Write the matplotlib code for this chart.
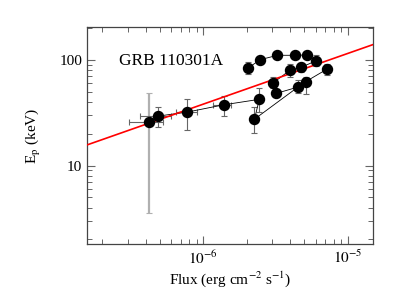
import matplotlib
matplotlib.use("Agg")
import matplotlib.pyplot as plt
import numpy as np
from matplotlib.ticker import LogLocator, FixedLocator, FixedFormatter, NullFormatter

plt.rcParams['font.family'] = ['Liberation Serif', 'DejaVu Serif']
plt.rcParams['mathtext.fontset'] = 'stix'

# Data (time-resolved spectral points)
flux    = [4.19e-7, 4.85e-7, 7.73e-7, 1.38e-6, 2.44e-6, 2.26e-6, 2.03e-6, 2.47e-6, 3.26e-6,
           4.28e-6, 5.23e-6, 6.07e-6, 7.21e-6, 4.75e-6, 3.96e-6, 3.02e-6, 3.20e-6, 4.52e-6, 5.10e-6]
flux_lo = [3.07e-7, 3.66e-7, 6.44e-7, 1.175e-6, 2.30e-6, 2.13e-6, 1.92e-6, 2.34e-6, 3.09e-6,
           4.06e-6, 4.96e-6, 5.76e-6, 6.84e-6, 4.50e-6, 3.76e-6, 2.86e-6, 3.04e-6, 4.29e-6, 4.84e-6]
flux_hi = [5.25e-7, 6.00e-7, 8.98e-7, 1.56e-6, 2.60e-6, 2.39e-6, 2.15e-6, 2.61e-6, 3.44e-6,
           4.51e-6, 5.52e-6, 6.40e-6, 7.60e-6, 5.01e-6, 4.18e-6, 3.19e-6, 3.38e-6, 4.77e-6, 5.38e-6]
ep      = [25.9, 29.4, 32.1, 37.6, 42.4, 27.5, 83.4, 100.6, 110.8,
           110.8, 111.5, 98.5, 82.2, 85.3, 79.8, 60.1, 48.3, 55.4, 62.2]
ep_lo   = [3.58, 23.0, 21.5, 29.4, 32.3, 20.2, 73.6, 96.0, 106.5,
           106.5, 107.0, 87.7, 72.1, 77.4, 68.6, 54.0, 44.4, 48.4, 48.0]
ep_hi   = [48.3, 35.6, 42.4, 45.5, 53.8, 36.1, 95.0, 105.5, 115.0,
           115.0, 116.0, 111.0, 91.7, 94.3, 91.7, 68.6, 52.8, 64.7, 69.0]

# connection order (indices into the arrays)
path_a = [0, 1, 2, 3, 4, 5, 17, 18, 12]
path_b = [6, 7, 8, 9, 10, 11, 13, 14, 15, 16, 17]

# power-law fit: Ep = norm * (F / 1e-6)^index
fit_norm = 38.2
fit_index = 0.48

title = "GRB 110301A"
x_ticks = [1e-6, 1e-5]
x_ticklabels = [r"$10^{\mathrm{-}6}$", r"$10^{\mathrm{-}5}$"]
y_ticks = [10, 100]
y_ticklabels = ["10", "100"]

fig = plt.figure(figsize=(4, 3), dpi=100)
ax = fig.add_axes([0.218, 0.186, 0.715, 0.723])
ax.set_xscale('log')
ax.set_yscale('log')
ax.set_xlim(1.57e-7, 1.5e-5)
ax.set_ylim(1.8, 204)

flux = np.array(flux); ep = np.array(ep)
xerr = np.array([flux - np.array(flux_lo), np.array(flux_hi) - flux])
yerr = np.array([ep - np.array(ep_lo), np.array(ep_hi) - ep])

# fit line
xf = np.logspace(np.log10(1.57e-7), np.log10(1.5e-5), 50)
ax.plot(xf, fit_norm * (xf / 1e-6) ** fit_index, color='red', lw=1.2, zorder=3)

# first point's large vertical error in light gray
ax.errorbar(flux[:1], ep[:1], yerr=yerr[:, :1], fmt='none', ecolor='#b0b0b0',
            elinewidth=1.6, capsize=2.5, capthick=0.8, zorder=1)
ax.errorbar(flux[:1], ep[:1], xerr=xerr[:, :1], fmt='none', ecolor='#666666',
            elinewidth=0.8, capsize=2.5, capthick=0.8, zorder=1)
ax.errorbar(flux[1:], ep[1:], xerr=xerr[:, 1:], yerr=yerr[:, 1:], fmt='none',
            ecolor='#666666', elinewidth=0.8, capsize=2.0, capthick=0.8, zorder=1)

for p in (path_a, path_b):
    ax.plot(flux[p], ep[p], color='black', lw=0.6, zorder=2)
ax.plot(flux, ep, 'o', color='black', ms=7.2, zorder=4, linestyle='none')

ax.text(0.112, 0.845, title, transform=ax.transAxes, fontsize=12.5, ha='left', va='center')

ax.xaxis.set_major_locator(FixedLocator(x_ticks))
ax.xaxis.set_major_formatter(FixedFormatter(x_ticklabels))
ax.xaxis.set_minor_locator(LogLocator(base=10, subs=np.arange(2, 10)))
ax.xaxis.set_minor_formatter(NullFormatter())
ax.yaxis.set_major_locator(FixedLocator(y_ticks))
ax.yaxis.set_major_formatter(FixedFormatter(y_ticklabels))
ax.yaxis.set_minor_locator(LogLocator(base=10, subs=np.arange(2, 10)))
ax.yaxis.set_minor_formatter(NullFormatter())

ax.tick_params(which='both', direction='in', top=True, right=True, color='#666666', labelsize=11)
ax.tick_params(which='major', length=6, width=0.8)
ax.tick_params(which='minor', length=3.5, width=0.7)
for s in ax.spines.values():
    s.set_color('#444444'); s.set_linewidth(0.9)

ax.set_xlabel(r"Flux (erg cm$^{\mathrm{-2}}$ s$^{\mathrm{-1}}$)", fontsize=11, labelpad=2)
ax.set_ylabel(r"E$_{\rm p}$ (keV)", fontsize=11, labelpad=12)

fig.savefig("out.png", dpi=100)
